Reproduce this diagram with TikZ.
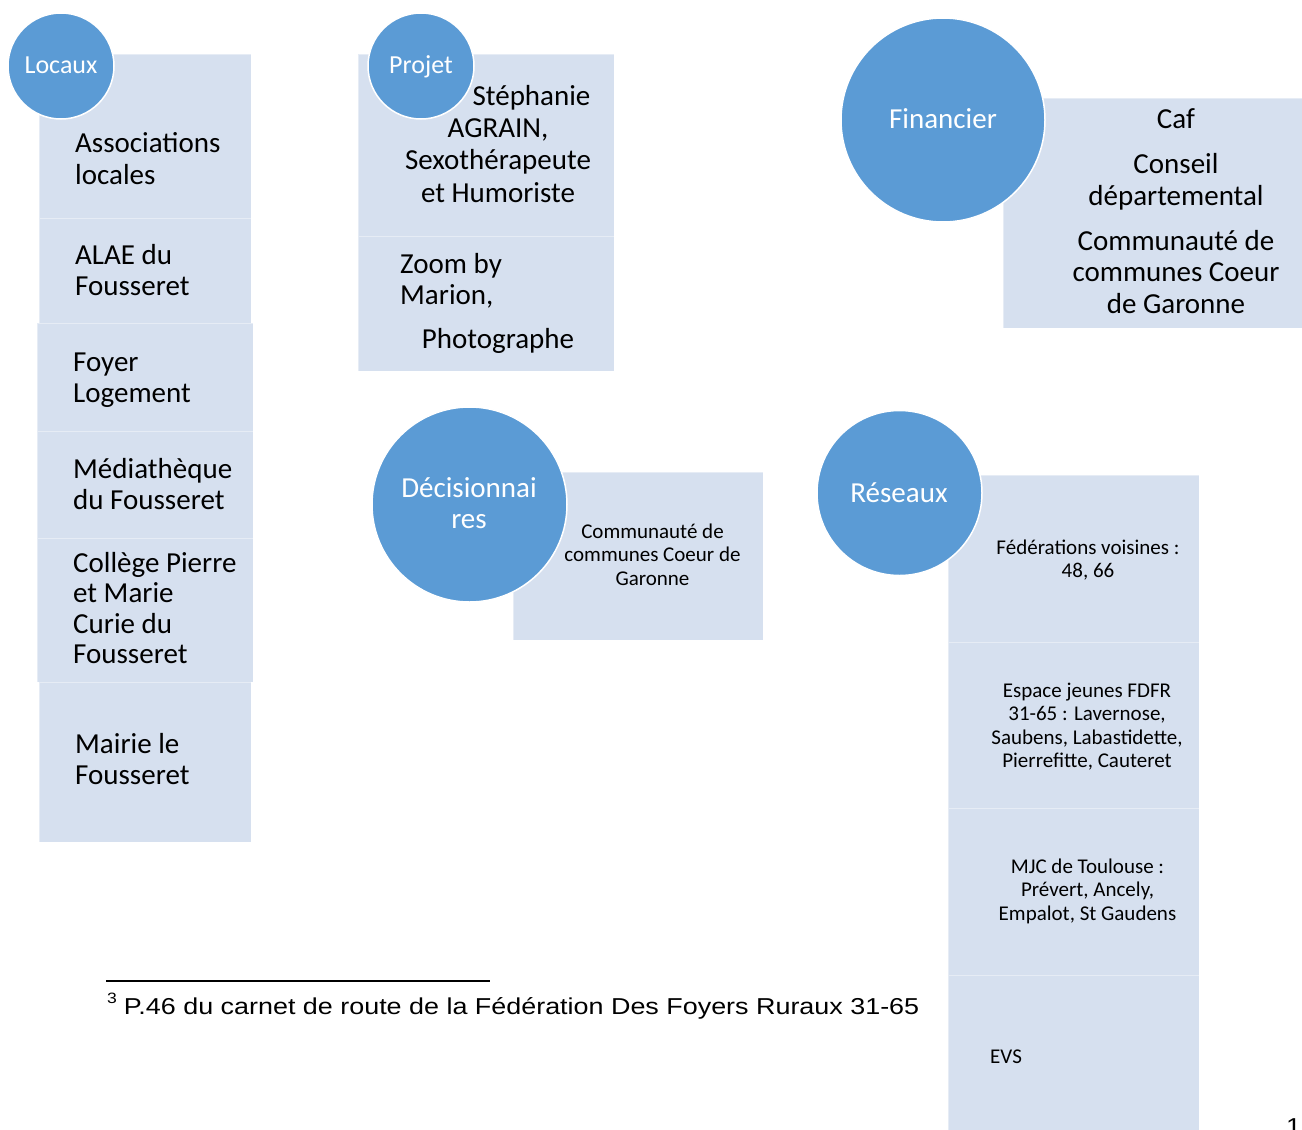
\documentclass[tikz,border=0pt]{standalone}
\usepackage{fontspec}
\setmainfont{Carlito}
\newfontfamily\arialf[FakeStretch=1.17]{Liberation Sans}
\definecolor{cblue}{HTML}{5B9BD5}
\definecolor{cbox}{RGB}{214,224,239}
\begin{document}
\begin{tikzpicture}[x=1pt,y=-1pt,
  boxcell/.style={fill=cbox, draw=white, draw opacity=0.4, line width=1pt},
  circ/.style={circle, fill=cblue, draw=white, line width=1.5pt, inner sep=0pt},
  bigtxt/.style={font=\fontsize{29}{31.5}\selectfont, inner sep=0pt},
  smalltxt/.style={font=\fontsize{21}{23.5}\selectfont, inner sep=0pt, align=center, anchor=base},
  circtxt/.style={text=white, inner sep=0pt, anchor=base, align=center},
  foot/.style={font=\arialf\fontsize{23}{27}\selectfont, inner sep=0pt, anchor=base west}]
\useasboundingbox (0,0) rectangle (1302,1130);

% ---- Locaux column
\path[boxcell] (39,54) rectangle (251,218);
\path[boxcell] (39,218) rectangle (251,323);
\path[boxcell] (37,323) rectangle (253,431);
\path[boxcell] (37,431) rectangle (253,538);
\path[boxcell] (37,538) rectangle (253,682);
\path[boxcell] (39,682) rectangle (251,842);

% ---- Projet column
\path[boxcell] (358,54) rectangle (614,236);
\path[boxcell] (358,236) rectangle (614,371);

% ---- Financier
\path[boxcell] (1003,98) rectangle (1302,328);

% ---- Decisionnaires
\path[boxcell] (513,472) rectangle (763,640);

% ---- Reseaux column
\path[boxcell] (948,475) rectangle (1199,642);
\path[boxcell] (948,642) rectangle (1199,808);
\path[boxcell] (948,808) rectangle (1199,975);
\path[boxcell] (948,975) rectangle (1199,1140);

% ---- circles
\node[circ, minimum size=106pt] (locaux) at (61,66) {};
\node[circ, minimum size=106pt] (projet) at (421,66) {};
\node[circ, minimum size=204pt] (financier) at (943,120) {};
\node[circ, minimum size=195pt] (decision) at (469.5,504.5) {};
\node[circ, minimum size=165pt] (reseaux) at (899.5,493) {};

% ---- circle labels (anchor = baseline of the last line)
\node[circtxt, font=\fontsize{26}{30}\selectfont] (locauxt) at (61,73) {Locaux};
\node[circtxt, font=\fontsize{26}{30}\selectfont] (projett) at (421,73) {Projet};
\node[circtxt, font=\fontsize{29}{31}\selectfont] (financiert) at (943,128) {Financier};
\node[circtxt, font=\fontsize{29}{31}\selectfont] (decisiont) at (469,528) {Décisionnai\\res};
\node[circtxt, font=\fontsize{29}{31}\selectfont] (reseauxt) at (899,502) {Réseaux};

% ---- Locaux texts
\node[bigtxt, align=left, anchor=base west] (l1) at (75,184) {Associations\\locales};
\node[bigtxt, align=left, anchor=base west] (l2) at (75,295.5) {ALAE du\\Fousseret};
\node[bigtxt, align=left, anchor=base west] (l3) at (73,402.5) {Foyer\\Logement};
\node[bigtxt, align=left, anchor=base west] (l4) at (73,509.5) {Médiathèque\\du Fousseret};
\node[bigtxt, align=left, anchor=base west, font=\fontsize{29}{30.5}\selectfont] (l5) at (73,663.5) {Collège Pierre\\et Marie\\Curie du\\Fousseret};
\node[bigtxt, align=left, anchor=base west] (l6) at (75,784.5) {Mairie le\\Fousseret};

% ---- Projet texts
\node[bigtxt, align=center, anchor=base, font=\fontsize{29}{32.3}\selectfont] (p1) at (498,202) {\hspace*{67pt}Stéphanie\\AGRAIN,\\Sexothérapeute\\et Humoriste};
\node[bigtxt, align=left, anchor=base west] (p2) at (400,304.5) {Zoom by\\Marion,};
\node[bigtxt, anchor=base] (p3) at (498,348) {Photographe};

% ---- Financier texts
\node[bigtxt, anchor=base] (f1) at (1176,128) {Caf};
\node[bigtxt, align=center, anchor=base, font=\fontsize{29}{32}\selectfont] (f2) at (1176,205) {Conseil\\départemental};
\node[bigtxt, align=center, anchor=base] (f3) at (1176,313) {Communauté de\\communes Coeur\\de Garonne};

% ---- Decisionnaires text
\node[smalltxt] (d1) at (652.5,585) {Communauté de\\communes Coeur de\\Garonne};

% ---- Reseaux texts
\node[smalltxt] (r1) at (1088,577.5) {Fédérations voisines :\\48, 66};
\node[smalltxt] (r2) at (1087,767.5) {Espace jeunes FDFR\\31-65 : Lavernose,\\Saubens, Labastidette,\\Pierrefitte, Cauteret};
\node[smalltxt] (r3) at (1087.5,920) {MJC de Toulouse :\\Prévert, Ancely,\\Empalot, St Gaudens};
\node[smalltxt, anchor=base west] (r4) at (990,1063) {EVS};

% ---- footnote
\coordinate (fnA) at (106,981);
\coordinate (fnB) at (490,981);
\draw[line width=1.6pt] (fnA) -- (fnB);
\node[foot] (fn) at (107,1014) {\raisebox{11pt}{\fontsize{15}{15}\selectfont 3}\hspace{7pt}P.46 du carnet de route de la Fédération Des Foyers Ruraux 31-65};
\node[foot] (pg) at (1286,1134) {1};
\end{tikzpicture}
\end{document}
